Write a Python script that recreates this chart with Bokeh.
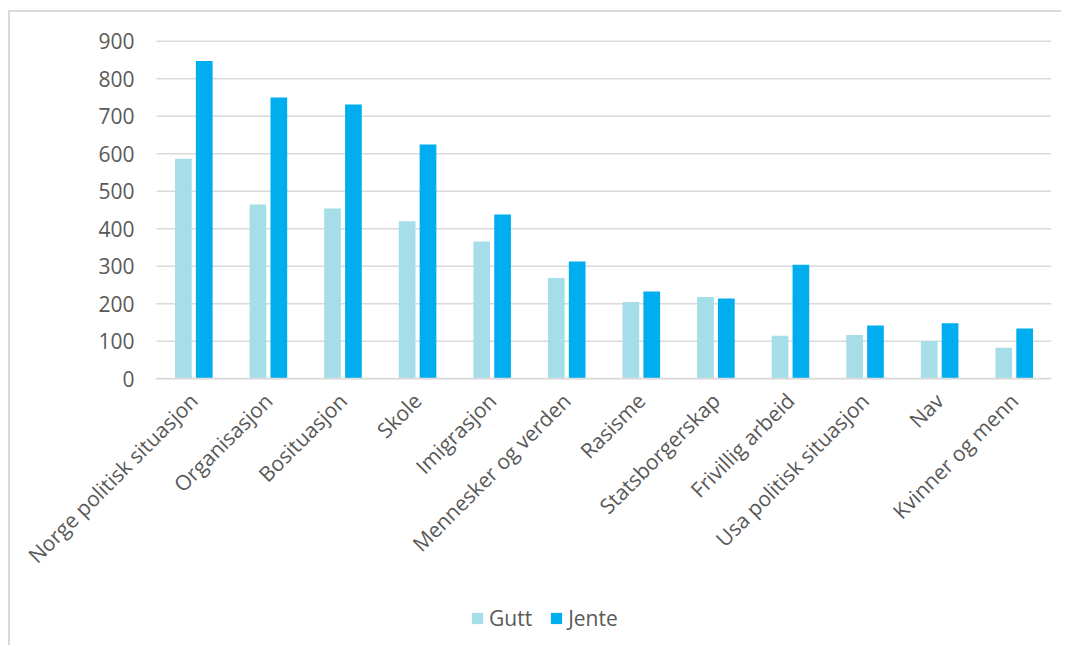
from bokeh.plotting import figure
from bokeh.models import Legend, LegendItem, ColumnDataSource, Range1d, FixedTicker
from bokeh.transform import dodge
from bokeh.embed import file_html
from bokeh.resources import INLINE
import math

categories = ["Norge politisk situasjon", "Organisasjon", "Bosituasjon", "Skole",
              "Imigrasjon", "Mennesker og verden", "Rasisme", "Statsborgerskap",
              "Frivillig arbeid", "Usa politisk situasjon", "Nav", "Kvinner og menn"]
gutt = [587, 465, 454, 420, 366, 269, 205, 218, 115, 117, 101, 83]
jente = [847, 750, 731, 625, 438, 313, 233, 214, 304, 142, 148, 134]
y_ticks = [0, 100, 200, 300, 400, 500, 600, 700, 800, 900]

pos = list(range(len(categories)))
src = ColumnDataSource(dict(x=pos, cat=categories, gutt=gutt, jente=jente))
n = len(categories)

TEXT = "#595959"
FONT = "Open Sans"

# frame covers the whole chart area; axes are pinned at x=-0.5 / y=0
p = figure(x_range=Range1d(-2.458, n - 0.5), y_range=Range1d(-700, 976.5),
           frame_width=1041, frame_height=629,
           output_backend="svg", toolbar_location=None,
           min_border_left=0, min_border_right=10, min_border_top=0,
           min_border_bottom=4)
p.styles = {"border-left": "2px solid #D9D9D9", "border-top": "2px solid #D9D9D9",
            "margin-left": "8px", "margin-top": "10px"}
p.outline_line_color = None
p.background_fill_color = "white"
p.border_fill_color = "white"
p.xgrid.visible = False
p.ygrid.visible = False

# horizontal gridlines at the value ticks, spanning the category area
p.segment(x0=-0.5, x1=n - 0.5, y0=y_ticks, y1=y_ticks,
          line_color="#D9D9D9", line_width=1.5)

r1 = p.vbar(x=dodge("x", -0.14), top="gutt", width=0.224,
            source=src, fill_color="#A5DEE8", line_color=None)
r2 = p.vbar(x=dodge("x", 0.14), top="jente", width=0.224,
            source=src, fill_color="#00AEEF", line_color=None)

p.yaxis.fixed_location = -0.5
p.yaxis.ticker = FixedTicker(ticks=y_ticks)
p.yaxis.axis_line_color = None
p.yaxis.major_tick_line_color = None
p.yaxis.minor_tick_line_color = None
p.yaxis.major_label_text_font = FONT
p.yaxis.major_label_text_font_size = "21px"
p.yaxis.major_label_text_color = TEXT
p.yaxis.major_label_standoff = 16

p.xaxis.fixed_location = 0
p.xaxis.bounds = (-0.5, n - 0.5)
p.xaxis.ticker = FixedTicker(ticks=pos)
p.xaxis.major_label_overrides = {i: c for i, c in zip(pos, categories)}
p.xaxis.axis_line_color = "#D9D9D9"
p.xaxis.axis_line_width = 1.5
p.xaxis.major_tick_line_color = None
p.xaxis.minor_tick_line_color = None
p.xaxis.major_label_orientation = math.pi / 4
p.xaxis.major_label_text_font = FONT
p.xaxis.major_label_text_font_size = "21px"
p.xaxis.major_label_text_color = TEXT
p.xaxis.major_label_standoff = 12

legend = Legend(items=[LegendItem(label="Gutt", renderers=[r1]),
                       LegendItem(label="Jente", renderers=[r2])],
                orientation="horizontal", location=(460, 9),
                label_text_font=FONT, label_text_font_size="21px",
                label_text_color=TEXT, glyph_width=14, glyph_height=14,
                spacing=17, label_standoff=5, border_line_color=None,
                background_fill_alpha=0, margin=0, padding=4)
p.add_layout(legend, "center")

open("out.html", "w").write(file_html(p, INLINE))
